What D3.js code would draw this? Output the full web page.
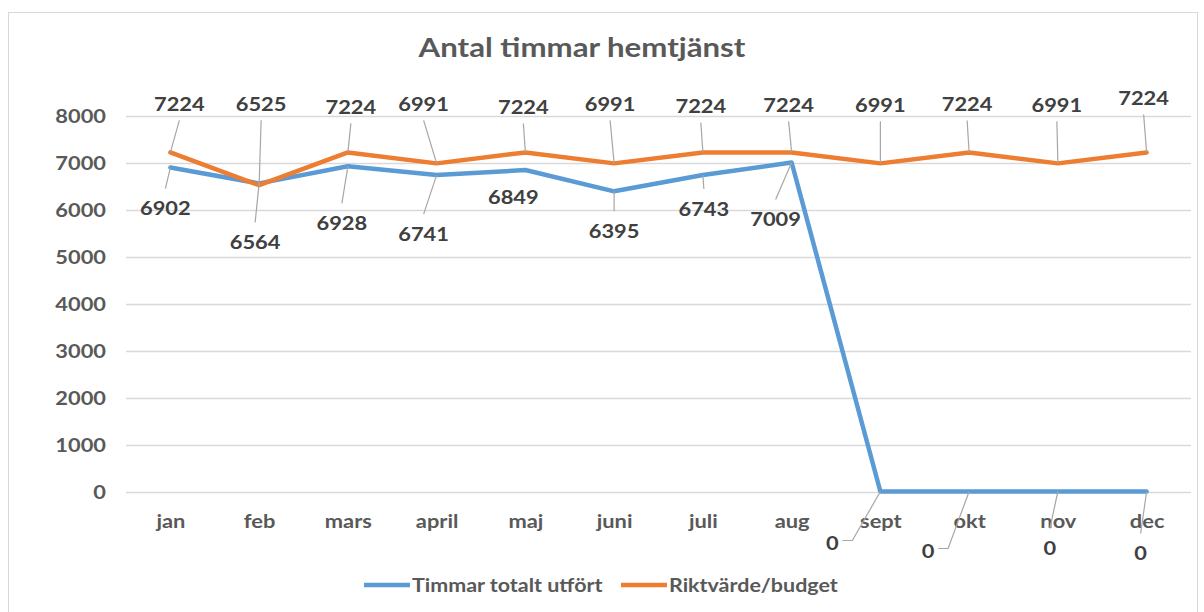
<!DOCTYPE html>
<html>
<head>
<meta charset="utf-8">
<script src="https://cdn.jsdelivr.net/npm/d3@7"></script>
<style>
  html, body { margin: 0; padding: 0; background: #fff; }
  svg { display: block; }
  text { font-family: Lato, "Open Sans", sans-serif; }
</style>
</head>
<body>
<svg id="chart" width="1204" height="612"></svg>
<script>
// ---- data ----
const months = ["jan","feb","mars","april","maj","juni","juli","aug","sept","okt","nov","dec"];
const utfort = [6902, 6564, 6928, 6741, 6849, 6395, 6743, 7009, 0, 0, 0, 0];
const budget = [7224, 6525, 7224, 6991, 7224, 6991, 7224, 7224, 6991, 7224, 6991, 7224];
const yTicks = [0, 1000, 2000, 3000, 4000, 5000, 6000, 7000, 8000];
const seriesNames = ["Timmar totalt utfört", "Riktvärde/budget"];
const title = "Antal timmar hemtjänst";

// ---- label layout (pixel offsets of data labels from their points) ----
const budgetLabelOffsets = [[9,-48],[2,-81],[3,-45],[-13,-59],[-2,-45],[-4,-59],[-2,-46],[-3,-47],[0,-58],[-2,-48],[-1,-58],[-3,-54]];
const utfortLabelOffsets = [[-5,41],[-4,59],[-6,57],[-13,59],[-12,27],[0,40],[1,34],[-16,57],[-48,52],[-41,60],[-8,57],[-6,62]];
const utfortLeader = [true,true,true,true,false,true,true,true,true,true,true,true];

const colors = ["#5B9BD5", "#ED7D31"];
const stretch = 1.15;       // horizontal text stretch for labels
const stretchWide = 1.2;    // for title
const stretchLegend = 1.13; // for legend
const svg = d3.select("#chart");

// frame
svg.append("rect").attr("x", 8.5).attr("y", 12.5).attr("width", 1189).attr("height", 640)
  .attr("fill", "#fff").attr("stroke", "#d9d9d9").attr("stroke-width", 1);

const x = d3.scalePoint().domain(months).range([126, 1191]).padding(0.5);
const y = d3.scaleLinear().domain([0, 8000]).range([491.5, 116]);

function stretchedText(parent, tx, ty, s, str) {
  return parent.append("g").attr("transform", `translate(${tx},${ty}) scale(${s},1)`)
    .append("text").attr("x", 0).attr("y", 0).text(str);
}

// title
stretchedText(svg, 582, 57, stretchWide, title).attr("text-anchor", "middle")
  .attr("font-size", 26).attr("font-weight", 700).attr("fill", "#595959");

// gridlines
svg.append("g").selectAll("line").data(yTicks).join("line")
  .attr("x1", 126).attr("x2", 1191)
  .attr("y1", d => Math.round(y(d)) + 0.5).attr("y2", d => Math.round(y(d)) + 0.5)
  .attr("stroke", "#d9d9d9").attr("stroke-width", 1.3);

// y axis labels
const yAxis = d3.axisLeft(y).tickValues(yTicks).tickSize(0).tickPadding(0).tickFormat(d3.format("d"));
const gy = svg.append("g").attr("transform", "translate(106,0)").call(yAxis);
gy.select(".domain").remove();
gy.selectAll("text").attr("font-size", 19).attr("font-weight", 700).attr("fill", "#595959")
  .attr("font-family", "Lato, sans-serif").attr("dy", "0.35em").attr("x", 0)
  .attr("transform", `scale(${stretch},1)`);

// x axis labels
const xAxis = d3.axisBottom(x).tickSize(0).tickPadding(0);
const gx = svg.append("g").attr("transform", "translate(0,521)").call(xAxis);
gx.select(".domain").remove();
gx.selectAll("text").attr("font-size", 19).attr("font-weight", 700).attr("fill", "#595959")
  .attr("font-family", "Lato, sans-serif").attr("dy", "0.35em").attr("y", 0)
  .attr("transform", `scale(${stretch},1)`);

// lines
const line = d3.line().x((d, i) => x(months[i])).y(d => y(d));
[utfort, budget].forEach((s, k) => {
  svg.append("path").datum(s).attr("d", line).attr("fill", "none")
    .attr("stroke", colors[k]).attr("stroke-width", 4.5).attr("stroke-linejoin", "round").attr("stroke-linecap", "round");
});

// data labels with leader lines
function labels(values, offsets, leaders) {
  const g = svg.append("g");
  values.forEach((v, i) => {
    const px = x(months[i]), py = y(v);
    const lx = px + offsets[i][0], ly = py + offsets[i][1];
    if (leaders[i]) {
      let pts;
      if (offsets[i][0] < -30) {
        pts = [[lx + 10, ly - 3], [lx + 20, ly - 3], [px, py]];
      } else if (offsets[i][1] < 0) {
        pts = [[lx, ly + 16], [px, py]];
      } else {
        pts = [[lx, ly - 20], [px, py]];
      }
      g.append("path").attr("d", d3.line()(pts)).attr("fill", "none")
        .attr("stroke", "#a6a6a6").attr("stroke-width", 1.2);
    }
    stretchedText(g, lx, ly, stretch, v).attr("dy", "0.35em").attr("text-anchor", "middle")
      .attr("font-size", 19).attr("font-weight", 700).attr("fill", "#404040");
  });
}
labels(budget, budgetLabelOffsets, budget.map(() => true));
labels(utfort, utfortLabelOffsets, utfortLeader);

// legend
const legend = svg.append("g");
const legendX = [364, 621];
seriesNames.forEach((n, k) => {
  legend.append("line").attr("x1", legendX[k]).attr("x2", legendX[k] + 46).attr("y1", 585).attr("y2", 585)
    .attr("stroke", colors[k]).attr("stroke-width", 4.5);
  stretchedText(legend, legendX[k] + 48, 585, stretchLegend, n).attr("dy", "0.35em")
    .attr("font-size", 19).attr("font-weight", 700).attr("fill", "#595959");
});
</script>
</body>
</html>
